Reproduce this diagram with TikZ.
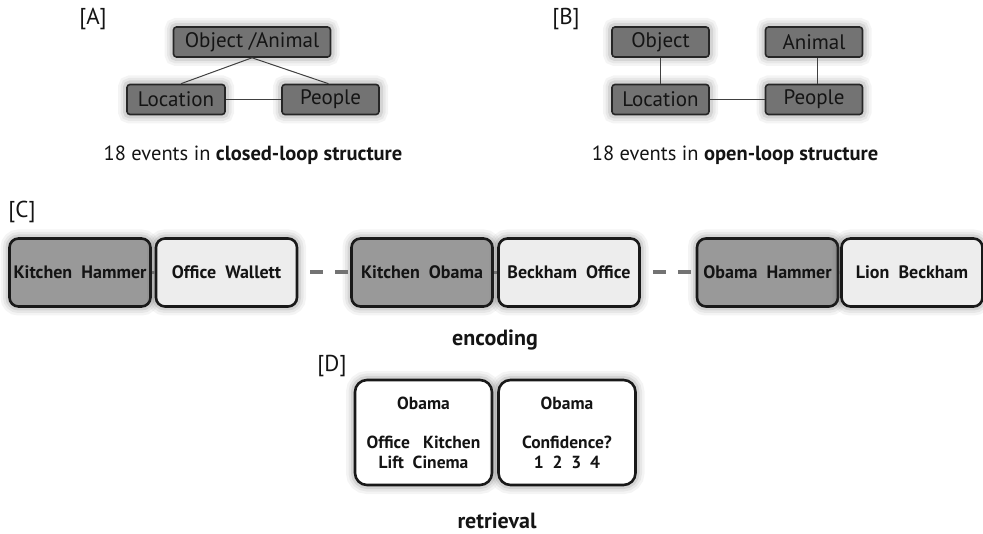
\documentclass[tikz,border=0pt]{standalone}
\usepackage{fontspec}
\setmainfont{PT Sans}
\begin{document}
\begin{tikzpicture}[x=1pt,y=-1pt,
  glow/.style={
    preaction={draw=black!70, line width=18pt, opacity=0.06},
    preaction={draw=black!70, line width=13pt, opacity=0.08},
    preaction={draw=black!70, line width=8pt, opacity=0.12}},
  abox/.style={glow, draw=black!85, line width=1.6pt, fill=black!55, rounded corners=3pt,
    minimum width=97pt, minimum height=30pt, inner sep=0pt,
    font=\fontsize{21}{23}\selectfont, text=black!92},
  cbox/.style={glow, draw=black!90, line width=2.6pt, rounded corners=9pt,
    minimum width=141pt, minimum height=68pt, inner sep=0pt,
    font=\bfseries\fontsize{18}{21}\selectfont, text=black!92},
  darkc/.style={cbox, fill=black!40},
  lightc/.style={cbox, fill=black!7},
  dbox/.style={glow, draw=black!90, line width=2.6pt, rounded corners=12pt, fill=white,
    minimum width=137pt, minimum height=105pt, inner sep=0pt, align=center,
    font=\bfseries\fontsize{17.5}{20}\selectfont, text=black!92},
  link/.style={draw=black!75, line width=1pt},
  clink/.style={draw=black!55, line width=3pt},
  gaplink/.style={draw=black!55, line width=4pt, dash pattern=on 13pt off 12pt, dash phase=13pt},
  lbl/.style={font=\fontsize{23}{25}\selectfont, text=black!92},
  capt/.style={font=\fontsize{20.5}{23}\selectfont, text=black!92},
  stage/.style={font=\bfseries\fontsize{22}{24}\selectfont, text=black!92}
]
\useasboundingbox (0,0) rectangle (983,534);

% Panel A
\node[lbl] (la) at (93,19) {[A]};
\node[abox, minimum width=157pt] (aobj) at (252,42) {Object /Animal};
\node[abox, minimum width=98pt] (aloc) at (176,99.5) {Location};
\node[abox, minimum width=97pt] (apeo) at (330.5,99.5) {People};
\draw[link] (aobj.south) -- ([xshift=5pt]aloc.north);
\draw[link] (aobj.south) -- ([xshift=-2pt]apeo.north);
\draw[link] (aloc.east) -- (apeo.west);
\node[capt] (capa) at (253,155) {18 events in \textbf{closed-loop structure}};

% Panel B
\node[lbl] (lb) at (566,19) {[B]};
\node[abox] (bobj) at (660.5,42) {Object};
\node[abox] (bani) at (814,42) {Animal};
\node[abox] (bloc) at (660.5,99.5) {Location};
\node[abox] (bpeo) at (814,99.5) {People};
\draw[link] (bobj) -- (bloc);
\draw[link] ([xshift=3pt]bani.south) -- ([xshift=3pt]bpeo.north);
\draw[link] (bloc.east) -- (bpeo.west);
\node[capt] (capb) at (735,155) {18 events in \textbf{open-loop structure}};

% Panel C
\node[lbl] (lc) at (22,212) {[C]};
\node[darkc] (c1) at (80,272.5) {Kitchen~~Hammer};
\node[lightc] (c2) at (226.5,272.5) {Office~~Wallett};
\node[darkc] (c3) at (422,272.5) {Kitchen~~Obama};
\node[lightc] (c4) at (569,272.5) {Beckham~~Office};
\node[darkc] (c5) at (767.5,272.5) {Obama~~Hammer};
\node[lightc] (c6) at (912,272.5) {Lion~~Beckham};
\draw[clink] (c1.east) -- (c2.west);
\draw[clink] (c3.east) -- (c4.west);
\draw[clink] (c5.east) -- (c6.west);
\draw[gaplink] (c2.east) -- (c3.west);
\draw[gaplink] (c4.east) -- (c5.west);
\node[stage] (enc) at (495,340) {encoding};

% Panel D
\node[lbl] (ld) at (332,366) {[D]};
\node[dbox] (d1) at (423.5,432.5) {Obama\\[19pt]Office~~~Kitchen\\Lift~~Cinema};
\node[dbox] (d2) at (567,432.5) {Obama\\[19pt]Confidence?\\1~~2~~3~~4};
\node[stage] (ret) at (497,521) {retrieval};
\end{tikzpicture}
\end{document}
